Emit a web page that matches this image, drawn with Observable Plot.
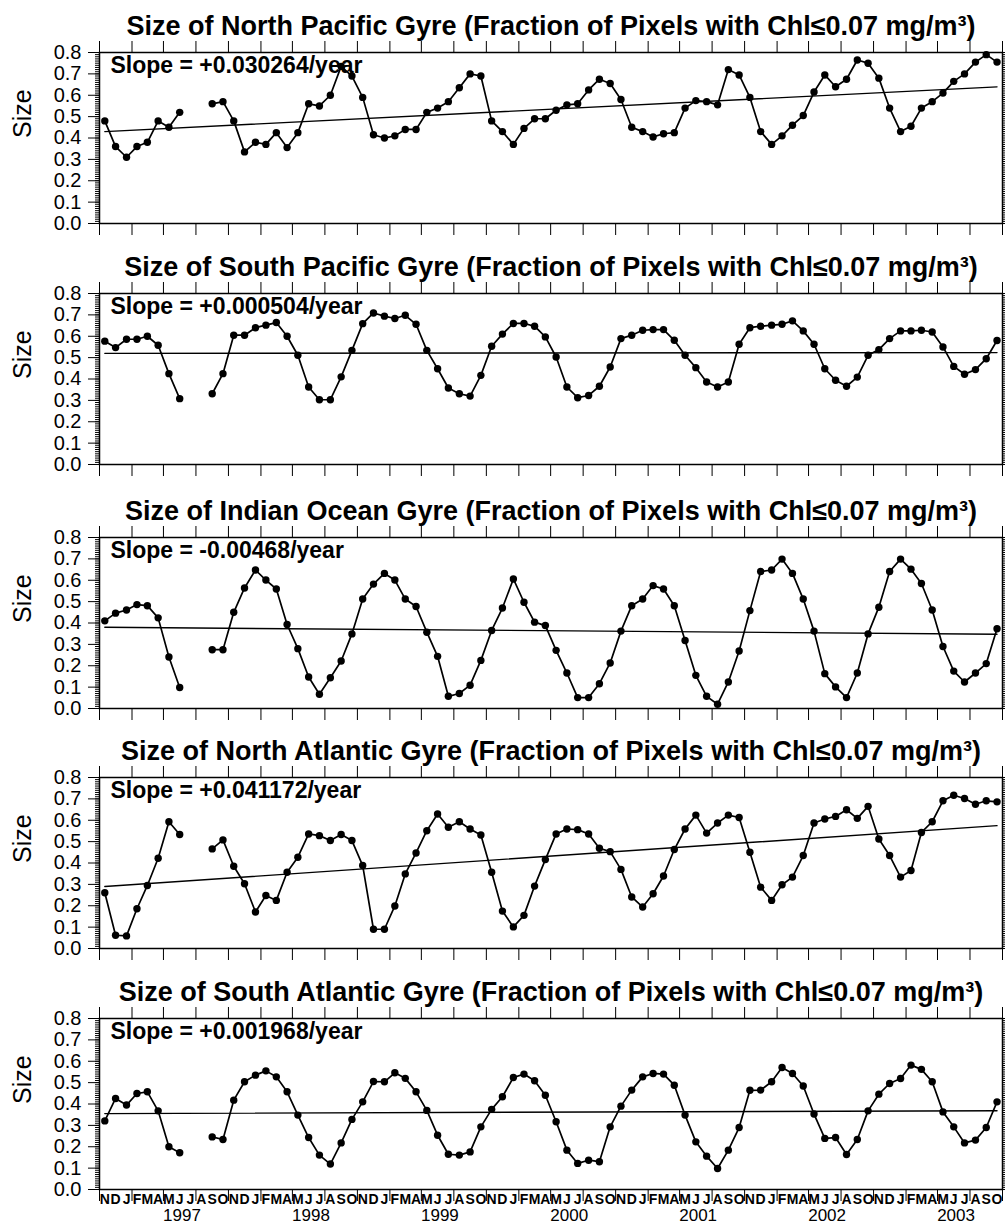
<!DOCTYPE html>
<html><head><meta charset="utf-8">
<script src="https://cdn.jsdelivr.net/npm/d3@7"></script>
<script src="https://cdn.jsdelivr.net/npm/@observablehq/plot@0.6"></script>
<style>body{margin:0;background:#fff;} svg{display:block;}</style>
</head><body><div id="chart"></div>
<script>
const gyres = ["North Pacific", "South Pacific", "Indian Ocean", "North Atlantic", "South Atlantic"];
const slopes = [0.030264, 0.000504, -0.00468, 0.041172, 0.001968];
const slopeLabels = ["+0.030264", "+0.000504", "-0.00468", "+0.041172", "+0.001968"];
const trendStart = [0.43, 0.52, 0.38, 0.29, 0.355];

const northPacific = [
 0.48, 0.36, 0.31, 0.36, 0.38, 0.48, 0.45, 0.52, null, null,
 0.56, 0.57, 0.48, 0.335, 0.38, 0.37, 0.425, 0.355, 0.425, 0.56,
 0.55, 0.60, 0.735, 0.69, 0.59, 0.415, 0.40, 0.41, 0.44, 0.44,
 0.52, 0.54, 0.57, 0.635, 0.70, 0.69, 0.48, 0.43, 0.37, 0.445,
 0.49, 0.49, 0.53, 0.555, 0.56, 0.625, 0.675, 0.655, 0.58, 0.45,
 0.43, 0.405, 0.42, 0.425, 0.54, 0.575, 0.57, 0.555, 0.72, 0.695,
 0.59, 0.43, 0.37, 0.41, 0.46, 0.505, 0.615, 0.695, 0.64, 0.675,
 0.765, 0.75, 0.68, 0.54, 0.43, 0.455, 0.54, 0.57, 0.61, 0.665,
 0.70, 0.755, 0.79, 0.755];
const southPacific = [
 0.577, 0.547, 0.586, 0.586, 0.60, 0.558, 0.425, 0.308, null, null,
 0.331, 0.425, 0.605, 0.605, 0.64, 0.652, 0.664, 0.60, 0.511, 0.3625,
 0.303, 0.303, 0.41, 0.534, 0.659, 0.709, 0.694, 0.683, 0.698, 0.656,
 0.534, 0.448, 0.358, 0.331, 0.32, 0.417, 0.553, 0.61, 0.66, 0.66,
 0.647, 0.597, 0.503, 0.3625, 0.3125, 0.323, 0.366, 0.456, 0.589, 0.605,
 0.628, 0.631, 0.631, 0.581, 0.511, 0.453, 0.386, 0.3625, 0.386, 0.5625,
 0.64, 0.647, 0.652, 0.656, 0.672, 0.625, 0.5625, 0.448, 0.394, 0.366,
 0.409, 0.511, 0.5375, 0.589, 0.625, 0.625, 0.628, 0.62, 0.55, 0.459,
 0.422, 0.444, 0.495, 0.58];
const indianOcean = [
 0.41, 0.446, 0.461, 0.486, 0.481, 0.424, 0.241, 0.098, null, null,
 0.275, 0.275, 0.45, 0.564, 0.648, 0.601, 0.559, 0.393, 0.28, 0.1475,
 0.067, 0.144, 0.222, 0.349, 0.512, 0.582, 0.632, 0.601, 0.512, 0.477,
 0.357, 0.244, 0.057, 0.07, 0.109, 0.225, 0.365, 0.47, 0.606, 0.497,
 0.404, 0.388, 0.272, 0.166, 0.051, 0.051, 0.116, 0.213, 0.362, 0.481,
 0.512, 0.575, 0.559, 0.481, 0.318, 0.155, 0.057, 0.02, 0.124, 0.269,
 0.458, 0.641, 0.648, 0.699, 0.632, 0.512, 0.362, 0.163, 0.101, 0.051,
 0.166, 0.349, 0.474, 0.641, 0.699, 0.652, 0.585, 0.461, 0.29, 0.175,
 0.124, 0.166, 0.21, 0.373];
const northAtlantic = [
 0.261, 0.062, 0.059, 0.186, 0.295, 0.422, 0.593, 0.533, null, null,
 0.466, 0.508, 0.385, 0.303, 0.171, 0.248, 0.225, 0.357, 0.427, 0.536,
 0.528, 0.505, 0.533, 0.505, 0.388, 0.09, 0.09, 0.199, 0.349, 0.447,
 0.551, 0.629, 0.567, 0.593, 0.559, 0.531, 0.357, 0.175, 0.101, 0.155,
 0.292, 0.416, 0.536, 0.559, 0.556, 0.536, 0.469, 0.453, 0.37, 0.241,
 0.194, 0.256, 0.339, 0.463, 0.559, 0.624, 0.54, 0.587, 0.624, 0.613,
 0.45, 0.287, 0.225, 0.298, 0.334, 0.435, 0.587, 0.606, 0.618, 0.649,
 0.609, 0.665, 0.512, 0.435, 0.334, 0.365, 0.543, 0.593, 0.691, 0.717,
 0.702, 0.675, 0.691, 0.686];
const southAtlantic = [
 0.321, 0.426, 0.395, 0.449, 0.457, 0.368, 0.2, 0.172, null, null,
 0.246, 0.234, 0.418, 0.504, 0.535, 0.555, 0.527, 0.457, 0.348, 0.243,
 0.161, 0.119, 0.218, 0.328, 0.41, 0.505, 0.504, 0.546, 0.52, 0.457,
 0.37, 0.254, 0.165, 0.161, 0.176, 0.293, 0.375, 0.434, 0.524, 0.54,
 0.509, 0.441, 0.317, 0.184, 0.122, 0.137, 0.13, 0.293, 0.39, 0.465,
 0.527, 0.543, 0.54, 0.488, 0.348, 0.223, 0.156, 0.098, 0.184, 0.29,
 0.464, 0.465, 0.504, 0.571, 0.543, 0.484, 0.353, 0.239, 0.243, 0.164,
 0.234, 0.368, 0.446, 0.496, 0.519, 0.582, 0.562, 0.504, 0.363, 0.293,
 0.218, 0.231, 0.29, 0.41];
const series = [northPacific, southPacific, indianOcean, northAtlantic, southAtlantic];

const monthLetters = ["J","F","M","A","M","J","J","A","S","O","N","D"];
const yearLabels = [1997, 1998, 1999, 2000, 2001, 2002, 2003];
const yTicks = [0.0, 0.1, 0.2, 0.3, 0.4, 0.5, 0.6, 0.7, 0.8];

const start = new Date(Date.UTC(1996, 10, 1));
const end = new Date(Date.UTC(2003, 10, 1));
const months = d3.range(84).map(i => {
  const a = d3.utcMonth.offset(start, i), b = d3.utcMonth.offset(start, i + 1);
  return new Date((+a + +b) / 2);
});
const quarterTicks = d3.utcMonth.range(start, new Date(Date.UTC(2003, 10, 2)), 3);
const minorTicks = d3.range(0, 81).map(k => k / 100);
const heights = [241, 244, 240, 241, 258];
const font = "'Liberation Sans', Arial, Helvetica, sans-serif";
const blank = () => "";

const chart = document.getElementById("chart");
series.forEach((vals, p) => {
  const rows = vals.map((v, i) => ({date: months[i], value: v}));
  const trend = [
    {date: months[0], value: trendStart[p]},
    {date: months[83], value: trendStart[p] + slopes[p] * 83 / 12}
  ];
  const last = p === series.length - 1;
  const marks = [
    Plot.axisY({ticks: minorTicks, tickSize: 4, tickFormat: blank, label: null}),
    Plot.axisY({anchor: "right", ticks: minorTicks, tickSize: 3, tickFormat: blank, label: null}),
    Plot.axisY({ticks: yTicks, tickSize: 11, tickPadding: 7, tickFormat: d3.format(".1f"), fontSize: 20, label: null}),
    Plot.axisX({anchor: "top", ticks: quarterTicks, tickSize: 12, tickFormat: blank, label: null}),
    Plot.axisX({anchor: "bottom", ticks: quarterTicks, tickSize: 12, tickFormat: blank, label: null}),
    Plot.frame({stroke: "black", strokeWidth: 1.5}),
    Plot.line(trend, {x: "date", y: "value", stroke: "black", strokeWidth: 1.4}),
    Plot.line(rows, {x: "date", y: "value", stroke: "black", strokeWidth: 1.7}),
    Plot.dot(rows, {x: "date", y: "value", r: 3.7, fill: "black"}),
    Plot.text([`Size of ${gyres[p]} Gyre (Fraction of Pixels with Chl≤0.07 mg/m³)`],
      {text: d => d, frameAnchor: "top", dy: -37, lineAnchor: "top", fontSize: 27, fontWeight: "bold"}),
    Plot.text([`Slope = ${slopeLabels[p]}/year`],
      {text: d => d, frameAnchor: "top-left", dx: 11, dy: 4, lineAnchor: "top", textAnchor: "start", fontSize: 23, fontWeight: "bold"}),
    Plot.text(["Size"], {text: d => d, frameAnchor: "left", dx: -77, lineAnchor: "middle", rotate: -90, fontSize: 25})
  ];
  if (last) {
    marks.push(
      Plot.text(months, {x: d => d, text: d => monthLetters[d.getUTCMonth()], frameAnchor: "bottom", dy: 14, lineAnchor: "bottom", fontSize: 14, fontWeight: "bold"}),
      Plot.text(yearLabels, {x: y => new Date(Date.UTC(y, 6, 1)), dx: -3, text: d => String(d), frameAnchor: "bottom", dy: 26, lineAnchor: "middle", fontSize: 17})
    );
  }
  const svg = Plot.plot({
    width: 1005,
    height: heights[p],
    marginTop: 52,
    marginBottom: heights[p] - 52 - 171,
    marginLeft: 99,
    marginRight: 3,
    style: {fontFamily: font, fontSize: "20px", color: "black", background: "white", overflow: "visible"},
    x: {type: "utc", domain: [start, end]},
    y: {domain: [0, 0.8]},
    marks
  });
  chart.appendChild(svg);
});
</script>
</body></html>
